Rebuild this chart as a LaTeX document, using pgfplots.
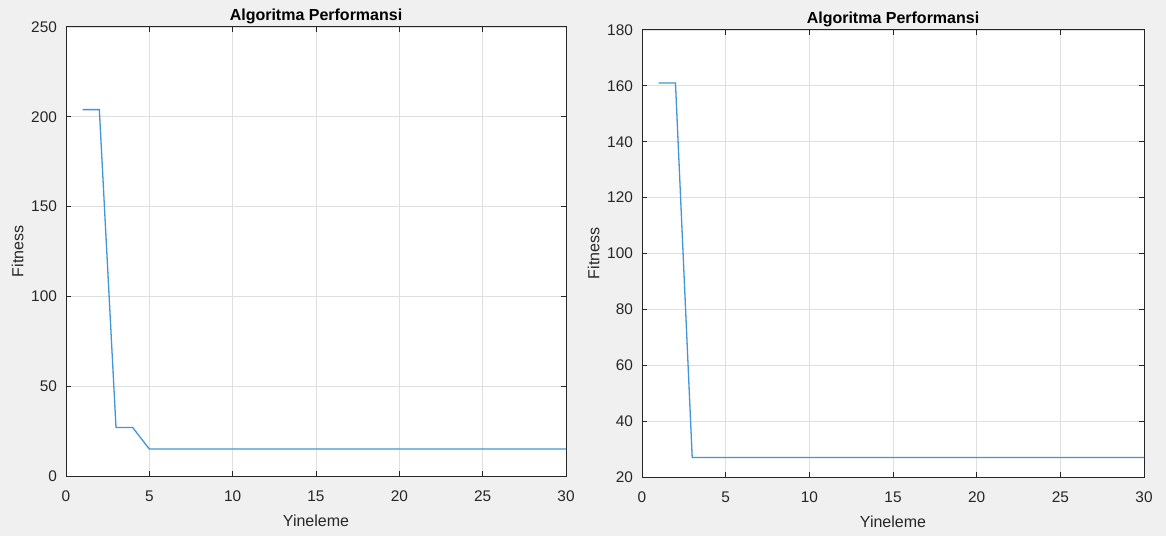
\documentclass[border=0pt]{standalone}
\usepackage{pgfplots}
\pgfplotsset{compat=1.18}
\usepackage{fontspec}
\setmainfont{Liberation Sans}
\definecolor{bgc}{HTML}{F0F0F0}
\definecolor{axc}{HTML}{262626}
\definecolor{gridc}{HTML}{DFDFDF}
\definecolor{linec}{RGB}{65,150,215}
\pgfplotsset{
  mstyle/.style={
    scale only axis,
    anchor=south west,
    axis background/.style={fill=white},
    axis line style={axc, line width=0.5pt},
    tick style={axc, line width=0.5pt},
    tick align=inside,
    major tick length=2.5pt,
    xtick pos=both, ytick pos=both,
    grid=major,
    major grid style={gridc, line width=0.4pt},
    tick label style={font=\fontsize{7.7}{9}\selectfont, text=axc},
    label style={font=\fontsize{8}{9.6}\selectfont, text=axc},
    title style={font=\fontsize{8}{9.6}\selectfont\bfseries, text=black, yshift=-8pt},
    /pgf/number format/assume math mode=true,
    xmin=0, xmax=30, xtick={0,5,...,30},
    xlabel={Yineleme}, ylabel={Fitness},
    title={Algoritma Performansi},
    xticklabel style={yshift=-4pt},
    xlabel style={yshift=0.5pt},
    ylabel style={yshift=-3pt},
    yticklabel style={xshift=-1pt},
  }
}
\begin{document}
\begin{tikzpicture}
\fill[bgc] (0pt,0pt) rectangle (583pt,268pt);
\useasboundingbox (0pt,0pt) rectangle (583pt,268pt);
\begin{axis}[mstyle, at={(33pt,30pt)}, width=250pt, height=224.5pt,
  ymin=0, ymax=250, ytick={0,50,...,250}]
\addplot[linec, line width=0.65pt] coordinates {
(1,204)(2,204)(3,27)(4,27)(5,15)(6,15)(7,15)(8,15)(9,15)(10,15)
(11,15)(12,15)(13,15)(14,15)(15,15)(16,15)(17,15)(18,15)(19,15)(20,15)
(21,15)(22,15)(23,15)(24,15)(25,15)(26,15)(27,15)(28,15)(29,15)(30,15)};
\end{axis}
\begin{axis}[mstyle, at={(321pt,29.5pt)}, width=251pt, height=223.5pt,
  ymin=20, ymax=180, ytick={20,40,...,180}]
\addplot[linec, line width=0.65pt] coordinates {
(1,161)(2,161)(3,27)(4,27)(5,27)(6,27)(7,27)(8,27)(9,27)(10,27)
(11,27)(12,27)(13,27)(14,27)(15,27)(16,27)(17,27)(18,27)(19,27)(20,27)
(21,27)(22,27)(23,27)(24,27)(25,27)(26,27)(27,27)(28,27)(29,27)(30,27)};
\end{axis}
\end{tikzpicture}
\end{document}
